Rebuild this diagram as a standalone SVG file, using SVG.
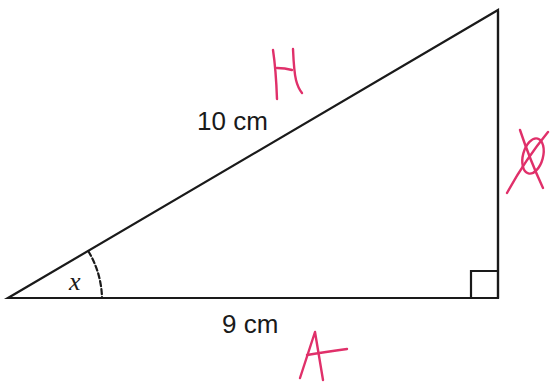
<svg xmlns="http://www.w3.org/2000/svg" width="550" height="383" viewBox="0 0 550 383">
<style>
.edge{stroke:#1a1a1a;stroke-width:2.2;fill:none;stroke-linecap:round}
.lbl{font-family:"Liberation Sans",Arial,sans-serif;font-size:26px;fill:#1a1a1a}
.ink{stroke:#e0306a;stroke-width:2.4;fill:none;stroke-linecap:round;stroke-linejoin:round}
</style>
<rect width="550" height="383" fill="#ffffff"/>
<g id="triangle">
<polygon class="edge" points="8,298 498,298 498,10" stroke-linejoin="miter"/>
<path class="edge" d="M498,11 V298" stroke-width="3"/>
<path class="edge" d="M471,298 V271 H498" stroke-width="1.3"/>
<path class="edge" d="M88.5,251.5 A94,94 0 0 1 102,298" stroke-width="1.5" stroke-dasharray="5,3" stroke="#444"/>
</g>
<g id="labels">
<text class="lbl" x="197" y="130" font-size="27">10 cm</text>
<text class="lbl" x="222" y="333">9 cm</text>
<text x="69" y="290" font-family="Liberation Serif,serif" font-style="italic" font-size="26" fill="#1a1a1a">x</text>
</g>
<g id="handwriting">
<path class="ink" d="M273,50 Q276,70 277,99"/>
<path class="ink" d="M277,68 Q285,68 292,70"/>
<path class="ink" d="M293,49 Q294,72 296,80 Q298,88 302,93"/>
<path class="ink" d="M300,378 L315,332 L323,380"/>
<path class="ink" d="M307,355 Q325,352 347,349"/>
<ellipse class="ink" cx="533" cy="156" rx="10" ry="18" transform="rotate(15 533 156)"/>
<path class="ink" d="M520,130 Q530,160 543,188"/>
<path class="ink" d="M548,132 Q525,160 507,193"/>
</g>
</svg>
